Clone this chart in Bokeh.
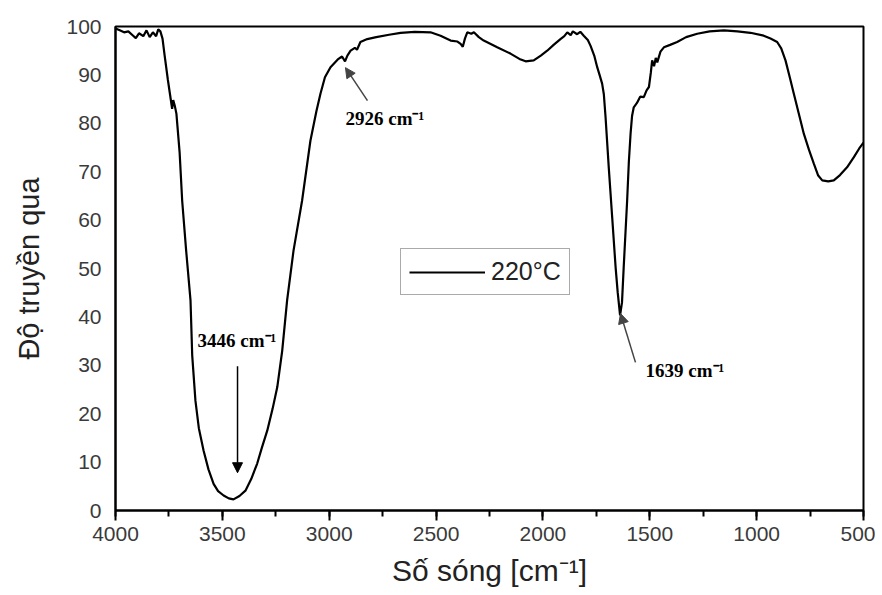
from bokeh.plotting import figure
from bokeh.models import (ColumnDataSource, Range1d, SingleIntervalTicker, Arrow,
                          NormalHead, Label, Legend, LegendItem)
from bokeh.embed import file_html
from bokeh.resources import INLINE

# ---- data ----
wavenumber = [4000, 3980, 3960, 3940, 3920, 3905, 3890, 3870, 3855, 3840, 3825, 3810,
              3800, 3790, 3780, 3770, 3755, 3745, 3735, 3730, 3722, 3715, 3700, 3688,
              3670, 3649, 3641, 3626, 3610, 3588, 3565, 3541, 3520, 3494, 3470, 3448,
              3420, 3392, 3365, 3337, 3315, 3290, 3265, 3243, 3220, 3197, 3167, 3127,
              3088, 3060, 3041, 3020, 2994, 2960, 2940, 2926, 2915, 2900, 2880, 2870,
              2854, 2822, 2780, 2720, 2666, 2600, 2526, 2479, 2432, 2400, 2385, 2375,
              2365, 2354, 2335, 2323, 2300, 2277, 2214, 2152, 2110, 2081, 2043, 2010,
              1980, 1950, 1918, 1900, 1886, 1870, 1860, 1840, 1825, 1809, 1790, 1777,
              1760, 1746, 1735, 1723, 1715, 1707, 1692, 1676, 1660, 1650, 1639, 1630,
              1622, 1606, 1598, 1590, 1583, 1575, 1560, 1545, 1528, 1515, 1504, 1495,
              1489, 1480, 1472, 1465, 1450, 1434, 1405, 1372, 1330, 1278, 1220, 1153,
              1090, 1029, 967, 935, 904, 885, 865, 845, 826, 800, 779, 755, 732, 712,
              693, 665, 639, 610, 577, 545, 520, 500]
transmittance = [99.6, 99.2, 98.8, 99.0, 98.2, 97.6, 98.6, 98.0, 99.2, 97.8, 98.8, 98.0,
                 99.4, 99.0, 97.5, 94.0, 89.0, 86.0, 83.0, 84.8, 83.5, 82.0, 74.0, 64.0,
                 54.0, 43.4, 32.0, 22.7, 17.0, 12.4, 8.5, 5.5, 4.0, 3.1, 2.5, 2.3,
                 3.0, 4.1, 6.5, 9.7, 13.0, 16.5, 21.0, 25.5, 33.0, 43.4, 53.7, 64.0,
                 76.4, 82.5, 86.1, 89.5, 91.6, 93.2, 93.8, 92.8, 94.0, 95.0, 95.6, 95.2,
                 96.8, 97.4, 97.8, 98.3, 98.7, 98.9, 98.8, 98.1, 97.1, 96.9, 96.4, 95.8,
                 97.5, 98.8, 98.5, 98.8, 97.8, 97.1, 95.7, 94.4, 93.3, 92.8, 93.0, 94.0,
                 95.0, 96.2, 97.4, 98.0, 98.8, 98.2, 99.0, 98.4, 98.9, 98.1, 97.2, 96.0,
                 94.0, 91.6, 90.0, 88.2, 86.0, 81.3, 70.9, 60.6, 50.3, 45.0, 40.3, 43.0,
                 50.3, 64.0, 72.0, 77.8, 81.5, 83.3, 84.2, 85.5, 85.4, 86.8, 87.5, 90.5,
                 93.0, 91.8, 93.5, 92.6, 94.8, 95.7, 96.2, 96.8, 97.8, 98.5, 99.0, 99.2,
                 99.0, 98.7, 98.1, 97.5, 96.8, 95.5, 93.0, 89.5, 86.1, 81.5, 77.8, 74.5,
                 71.6, 69.2, 68.2, 68.0, 68.2, 69.3, 70.9, 73.0, 74.8, 76.0]

series_label = "220°C"

peak_labels = ["2926 cm⁻¹", "3446 cm⁻¹", "1639 cm⁻¹"]
peak_label_x = [2924, 3616, 1520]
peak_label_y = [81.0, 35.1, 28.9]
arrow_tail_x = [2821, 3429, 1567]
arrow_tail_y = [84.7, 29.8, 30.6]
arrow_head_x = [2924, 3429, 1637]
arrow_head_y = [91.5, 7.8, 40.7]
arrow_colors = ["#444444", "#000000", "#444444"]

x_ticks_major = 500
y_ticks_major = 10

# ---- figure ----
p = figure(width=875, height=584, output_backend="svg", toolbar_location=None,
           x_range=Range1d(4000, 500), y_range=Range1d(0, 100),
           frame_width=748, frame_height=484,
           min_border_left=115, min_border_top=26, min_border_right=12,
           min_border_bottom=74)
p.background_fill_color = "white"
p.border_fill_color = "white"
p.grid.visible = False
p.outline_line_color = "black"
p.outline_line_width = 2

src = ColumnDataSource(dict(x=wavenumber, y=transmittance))
r = p.line("x", "y", source=src, line_color="black", line_width=2.2)

# axes
xax = p.xaxis[0]
xax.ticker = SingleIntervalTicker(interval=x_ticks_major, num_minor_ticks=2)
xax.major_tick_out = 10
xax.major_tick_in = 0
xax.minor_tick_out = 6
xax.minor_tick_in = 0
xax.major_tick_line_width = 2
xax.minor_tick_line_width = 2
xax.axis_line_width = 2
xax.major_label_text_font = "Liberation Sans"
xax.major_label_text_font_size = "21px"
xax.major_label_text_color = "#3a3a3a"
xax.major_label_standoff = 6
xax.axis_label = "Số sóng [cm⁻¹]"
xax.axis_label_text_font = "Liberation Sans"
xax.axis_label_text_font_size = "30px"
xax.axis_label_text_font_style = "normal"
xax.axis_label_text_color = "#222222"
xax.axis_label_standoff = 10

yax = p.yaxis[0]
yax.ticker = SingleIntervalTicker(interval=y_ticks_major, num_minor_ticks=0)
yax.major_tick_out = 0
yax.major_tick_in = 0
yax.minor_tick_out = 0
yax.minor_tick_in = 0
yax.axis_line_width = 2
yax.major_label_text_font = "Liberation Sans"
yax.major_label_text_font_size = "21px"
yax.major_label_text_color = "#3a3a3a"
yax.major_label_standoff = 14
yax.axis_label = "Độ truyền qua"
yax.axis_label_text_font = "Liberation Sans"
yax.axis_label_text_font_size = "29px"
yax.axis_label_text_font_style = "normal"
yax.axis_label_text_color = "#222222"
yax.axis_label_standoff = 18

# annotations
for i in range(len(peak_labels)):
    p.add_layout(Arrow(end=NormalHead(size=10, fill_color=arrow_colors[i],
                                      line_color=arrow_colors[i]),
                       x_start=arrow_tail_x[i], y_start=arrow_tail_y[i],
                       x_end=arrow_head_x[i], y_end=arrow_head_y[i],
                       line_color=arrow_colors[i], line_width=1.5))
    p.add_layout(Label(x=peak_label_x[i], y=peak_label_y[i], text=peak_labels[i],
                       text_font="Liberation Serif", text_font_style="bold",
                       text_font_size="19px", text_color="black",
                       text_align="left", text_baseline="middle"))

legend = Legend(items=[LegendItem(label=series_label, renderers=[r])],
                location=(285, 215), orientation="vertical",
                border_line_color="#555555", border_line_width=1.5,
                label_text_font="Liberation Sans", label_text_font_size="25px",
                label_text_color="#222222",
                glyph_width=76, glyph_height=24, label_standoff=6,
                padding=8, margin=0, background_fill_alpha=1.0)
p.add_layout(legend)

open("out.html", "w").write(file_html(p, INLINE))
